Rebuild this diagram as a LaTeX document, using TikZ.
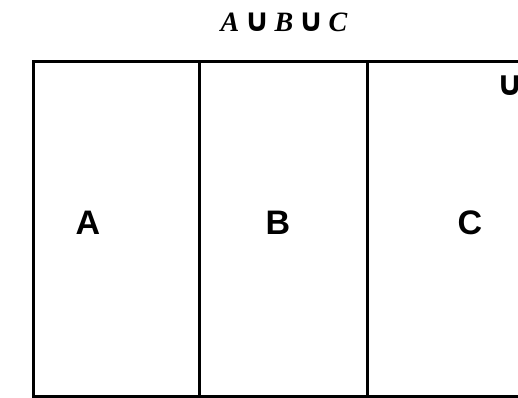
\documentclass[tikz,border=0pt]{standalone}
\usepackage{fontspec}
\setmainfont{Liberation Serif}
\setsansfont{Liberation Sans}
\newfontfamily\symfont{DejaVu Sans}
\usetikzlibrary{positioning}
\tikzset{
  setline/.style={draw=black, line width=1.5pt},
  setlabel/.style={font=\sffamily\bfseries\fontsize{17}{17}\selectfont, inner sep=0pt},
  unionsym/.style={font=\symfont\bfseries\fontsize{17}{17}\selectfont, inner sep=0pt},
  titletext/.style={font=\bfseries\itshape\fontsize{14}{14}\selectfont, inner sep=0pt}
}
\newcommand{\titlecup}{{\symfont\upshape\fontsize{16}{16}\selectfont ∪}}

\begin{document}
\begin{tikzpicture}[x=0.5pt,y=-0.5pt]
  \clip (0,0) rectangle (518,397);
  \fill[white] (0,0) rectangle (518,397);

  % the three columns
  \draw[setline] (33,61) rectangle (199,396);
  \draw[setline] (199,61) rectangle (367,396);
  \draw[setline] (367,61) rectangle (560,396);

  \node[setlabel] (labA) at (88,223) {A};
  \node[setlabel] (labB) at (278,223) {B};
  \node[setlabel] (labC) at (470,223) {C};
  \node[unionsym] (cup) at (510,86) {∪};

  \node[titletext] (title) at (284,22)
    {A\,\titlecup\,B\,\titlecup\,C};
\end{tikzpicture}
\end{document}
